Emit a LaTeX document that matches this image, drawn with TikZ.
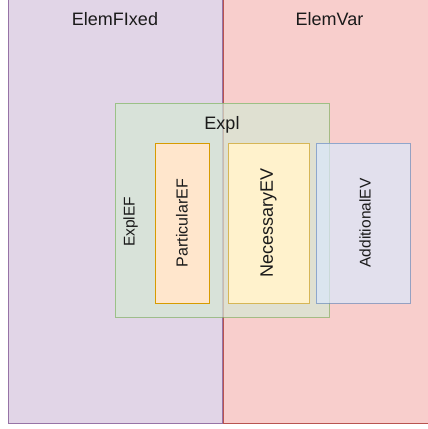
\documentclass[tikz,border=0pt]{standalone}
\usepackage{fontspec}
\setmainfont{Liberation Sans}
\usepackage{tikz}
\usetikzlibrary{positioning}
\definecolor{ink}{RGB}{26,26,26}
\definecolor{fixfill}{HTML}{E1D5E7}
\definecolor{fixline}{HTML}{9673A6}
\definecolor{varfill}{HTML}{F8CECC}
\definecolor{varline}{HTML}{B85450}
\definecolor{explfill}{HTML}{D5E8D4}
\definecolor{explline}{HTML}{82B366}
\definecolor{partfill}{HTML}{FFE6CC}
\definecolor{partline}{HTML}{D79B00}
\definecolor{necfill}{HTML}{FFF2CC}
\definecolor{necline}{HTML}{D6B656}
\definecolor{addfill}{HTML}{DAE8FC}
\definecolor{addline}{HTML}{6C8EBF}

\begin{document}
\begin{tikzpicture}[x=1pt, y=1pt, text=ink,
  zone/.style={line width=1pt, inner sep=0pt, anchor=north west},
  frame/.style={line width=1pt, inner sep=0pt, fill opacity=0.7, draw opacity=0.7},
  item/.style={line width=1pt, inner sep=0pt, minimum height=160pt},
  tag/.style={inner sep=0pt, font=\fontsize{18}{20}\selectfont},
  sidetag/.style={inner sep=0pt, rotate=90, font=\fontsize{16}{18}\selectfont}]
  \useasboundingbox (0,-429) rectangle (428,0);
  \clip (0,-429) rectangle (428,0);
  % the two halves
  \node[zone, draw=fixline, fill=fixfill, minimum width=214pt, minimum height=433pt] (fixed) at (8,10) {};
  \node[zone, draw=varline, fill=varfill, minimum width=220pt, minimum height=433pt] (var) at (223,10) {};
  \node[tag] (fixedlbl) at (115,-19) {ElemFIxed};
  \node[tag] (varlbl) at (329.5,-19) {ElemVar};
  % explanation block
  \node[frame, draw=explline, fill=explfill, minimum width=214pt, minimum height=214pt] (expl) at (222,-210) {};
  \node[tag] (expllbl) at (222,-125) {Expl};
  \node[sidetag, font=\fontsize{15.5}{18}\selectfont] (explef) at (130.5,-222) {ExplEF};
  % the three parts
  \node[item, draw=partline, fill=partfill, minimum width=54pt] (partef) at (182,-223) {};
  \node[item, draw=necline, fill=necfill, minimum width=81pt] (necev) at (268.5,-223) {};
  \node[item, draw=addline, fill=addfill, minimum width=94pt, fill opacity=0.7, draw opacity=0.7] (addev) at (363,-223) {};
  \node[sidetag] (parteflbl) at (partef.center) {ParticularEF};
  \node[sidetag, font=\fontsize{18}{20}\selectfont] (necevlbl) at (necev.center) {NecessaryEV};
  \node[sidetag, font=\fontsize{15.5}{18}\selectfont] (addevlbl) at ([xshift=2pt]addev.center) {AdditionalEV};
\end{tikzpicture}
\end{document}
